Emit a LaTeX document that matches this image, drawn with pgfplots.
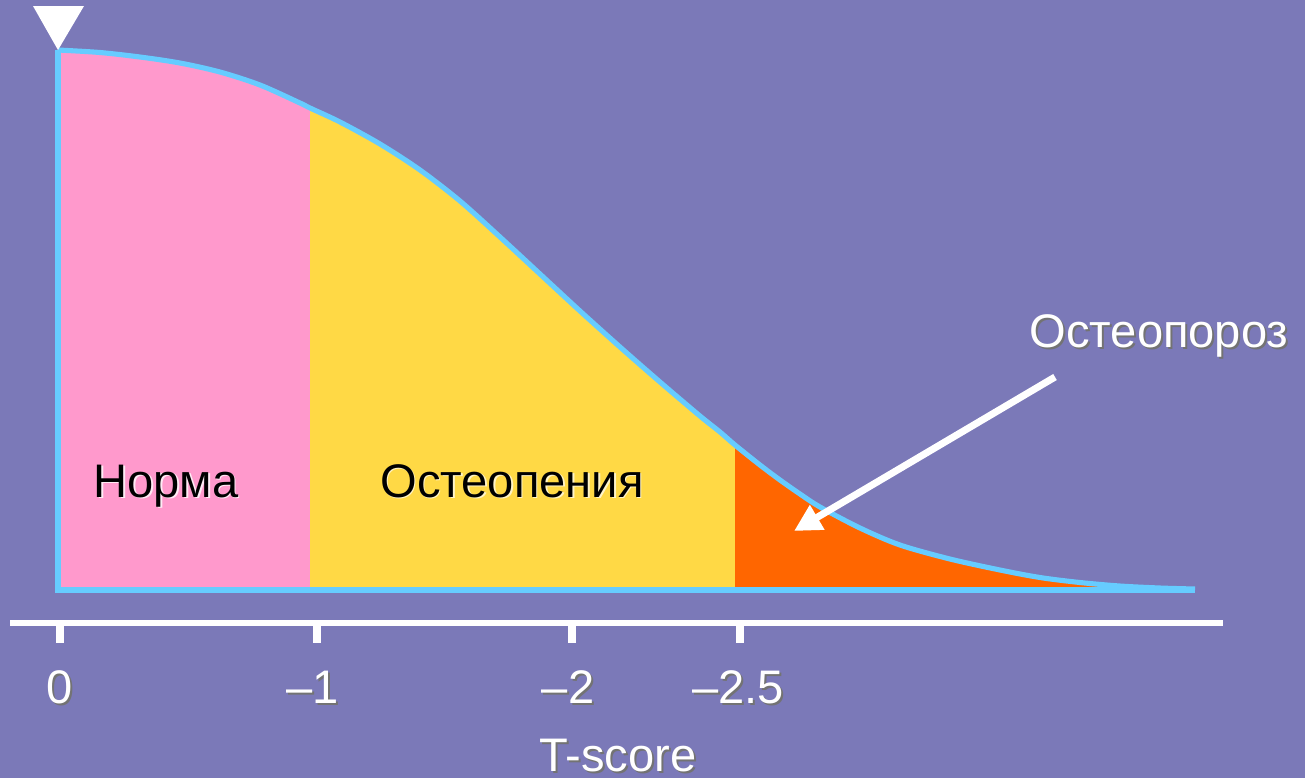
\documentclass[border=0pt]{standalone}
\usepackage{pgfplots}
\pgfplotsset{compat=1.18}
\usepackage{fontspec}
\setmainfont{Liberation Sans}
\usetikzlibrary{arrows.meta}
\definecolor{bg}{RGB}{123,121,184}
\definecolor{pinkz}{RGB}{255,153,204}
\definecolor{yellowz}{RGB}{255,217,69}
\definecolor{orangez}{RGB}{255,102,0}
\definecolor{linez}{RGB}{102,204,255}
\tikzset{lbl/.style={font=\fontsize{13.4pt}{16pt}\selectfont, inner sep=0pt, outer sep=0pt, anchor=base}}
\begin{document}
\begin{tikzpicture}
\begin{axis}[
  width=13.05cm, height=7.78cm, scale only axis,
  xmin=0, xmax=1305, ymin=0, ymax=778, y dir=reverse,
  hide axis, clip=false, unbounded coords=jump,
]
% background
\addplot[fill=bg, draw=none] coordinates {(0,0)(1305,0)(1305,778)(0,778)} -- cycle;
% Norma (pink)
\addplot[fill=pinkz, draw=none] coordinates {
(58,590)(58,50)(100,52.5)(140,57)(180,63)(220,72)(260,85)(300,103)(310,108)(310,590)} -- cycle;
% Osteopenia (yellow)
\addplot[fill=yellowz, draw=none] coordinates {
(310,590)(310,108)(340,122)(380,144)(420,170)(460,201)(500,237)(540,274)(580,311)(620,347)(660,382)(700,416)(720,432)(735,445)(735,590)} -- cycle;
% Osteoporosis (orange)
\addplot[fill=orangez, draw=none] coordinates {
(735,590)(735,445)(760,465)(780,480)(800,494)(820,507)(860,528)(900,545)(950,559)(1000,570)(1040,577.5)(1080,582.5)(1120,586)(1160,588)(1193,589)(1193,590)} -- cycle;
% outline: straight parts
\addplot[linez, line width=1.45pt, line join=miter] coordinates {(1195,590)(58,590)(58,50)};
% outline: curve
\addplot[linez, line width=1.45pt, smooth, tension=0.5] coordinates {
(58,50)(100,52.5)(140,57)(180,63)(220,72)(260,85)(300,103)(310,108)(340,122)(380,144)(420,170)(460,201)(500,237)(540,274)(580,311)(620,347)(660,382)(700,416)(720,432)(735,445)(760,465)(780,480)(800,494)(820,507)(860,528)(900,545)(950,559)(1000,570)(1040,577.5)(1080,582.5)(1120,586)(1160,588)(1195,589)};
% triangle marker at 0
\addplot[fill=white, draw=none] coordinates {(33,6)(84,6)(58,50)} -- cycle;
% arrow
\addplot[white, line width=2pt, -{Triangle[length=0.27cm, width=0.27cm]}] coordinates {(1055,377)(794,531)};
% axis line and ticks
\addplot[white, line width=1.7pt] coordinates {(10,623)(1223,623)};
\addplot[white, line width=2pt] coordinates {
(60,623)(60,643)(60,nan)
(317,623)(317,643)(317,nan)
(572,623)(572,643)(572,nan)
(740,623)(740,643)};
% tick labels (shadow + text)
\node[lbl, text=black!55] at (axis cs:62,705) {0};
\node[lbl, text=white] at (axis cs:60,703) {0};
\node[lbl, text=black!55] at (axis cs:315,705) {–1};
\node[lbl, text=white] at (axis cs:313,703) {–1};
\node[lbl, text=black!55] at (axis cs:570,705) {–2};
\node[lbl, text=white] at (axis cs:568,703) {–2};
\node[lbl, text=black!55] at (axis cs:740,705) {–2.5};
\node[lbl, text=white] at (axis cs:738,703) {–2.5};
\node[lbl, text=black!55] at (axis cs:620,773) {T-score};
\node[lbl, text=white] at (axis cs:618,771) {T-score};
\node[lbl, text=black!55] at (axis cs:1161,349) {Остеопороз};
\node[lbl, text=white] at (axis cs:1159,347) {Остеопороз};
\node[lbl, text=white!80!pinkz] at (axis cs:167.5,498.5) {Норма};
\node[lbl, text=black] at (axis cs:166,497) {Норма};
\node[lbl, text=white!70!yellowz] at (axis cs:513.5,498.5) {Остеопения};
\node[lbl, text=black] at (axis cs:512,497) {Остеопения};
\end{axis}
\pgfresetboundingbox
\path[use as bounding box] (0,0) rectangle (13.05cm,7.78cm);
\end{tikzpicture}
\end{document}
